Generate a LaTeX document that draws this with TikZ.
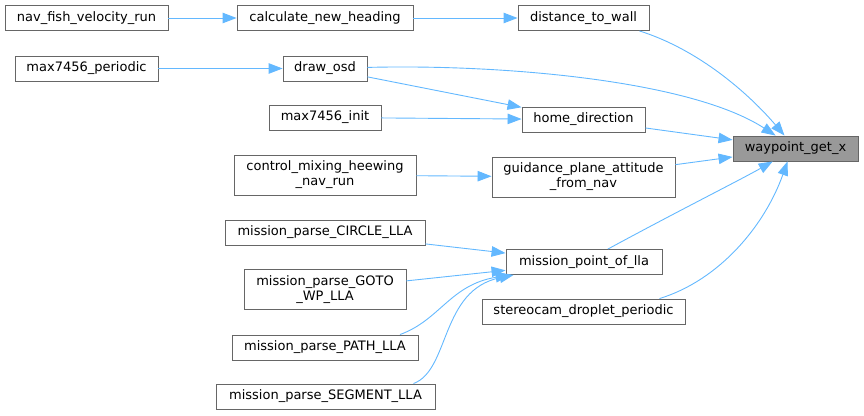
\documentclass[tikz,border=0pt]{standalone}
\usepackage{fontspec}
\setmainfont{DejaVu Sans}
\usepackage{tikz}
\usetikzlibrary{arrows.meta,positioning,calc}
\definecolor{callblue}{HTML}{63B8FF}
\definecolor{boxgray}{HTML}{666666}
\definecolor{selgray}{HTML}{999999}

\begin{document}
\begin{tikzpicture}[x=1pt, y=-1pt,
        fn/.style={rectangle, draw=boxgray, line width=0.9pt, fill=white,
                   inner sep=0pt, minimum height=25pt, align=center,
                   font=\fontsize{13}{15}\selectfont},
        fn2/.style={fn, minimum height=40pt},
        sel/.style={fn, fill=selgray},
        call/.style={draw=callblue, line width=0.9pt,
                     -{Triangle[length=14pt, width=10.5pt]}, callblue}
    ]
    \useasboundingbox (0,0) rectangle (864,415);

    %% ── callee ──────────────────────────────────────────────────────────────
    \node[sel, minimum width=125pt] (wgx) at (795.5,148.5) {waypoint\_get\_x};

    %% ── direct callers ──────────────────────────────────────────────────────
    \node[fn,  minimum width=131pt] (dist)   at (583.5, 18)   {distance\_to\_wall};
    \node[fn,  minimum width=123pt] (home)   at (583.5,119.5) {home\_direction};
    \node[fn2, minimum width=183pt] (gpa)    at (583.5,177)   {guidance\_plane\_attitude\\\_from\_nav};
    \node[fn,  minimum width=156pt] (mpl)    at (584,  262)   {mission\_point\_of\_lla};
    \node[fn,  minimum width=203pt] (stereo) at (583.5,311.5) {stereocam\_droplet\_periodic};
    \node[fn,  minimum width=84pt]  (osd)    at (325,  68.5)  {draw\_osd};

    %% ── second level ────────────────────────────────────────────────────────
    \node[fn,  minimum width=176pt] (calc) at (325,   18)   {calculate\_new\_heading};
    \node[fn,  minimum width=112pt] (m7i)  at (325,  117.5) {max7456\_init};
    \node[fn2, minimum width=182pt] (cmh)  at (325,  175)   {control\_mixing\_heewing\\\_nav\_run};
    \node[fn,  minimum width=200pt] (circ) at (325,  232.5) {mission\_parse\_CIRCLE\_LLA};
    \node[fn2, minimum width=162pt] (goto) at (325,  289.5) {mission\_parse\_GOTO\\\_WP\_LLA};
    \node[fn,  minimum width=186pt] (path) at (325,  347.5) {mission\_parse\_PATH\_LLA};
    \node[fn,  minimum width=219pt] (seg)  at (325.5,396.5) {mission\_parse\_SEGMENT\_LLA};

    %% ── third level ─────────────────────────────────────────────────────────
    \node[fn,  minimum width=163pt] (nav) at (86.5, 18)   {nav\_fish\_velocity\_run};
    \node[fn,  minimum width=143pt] (m7p) at (86.5, 68.5) {max7456\_periodic};

    %% ── calls ───────────────────────────────────────────────────────────────
    \draw[call] (nav) -- (calc);
    \draw[call] (calc) -- (dist);
    \draw[call] (m7p) -- (osd);
    \draw[call] (m7i) -- (home);
    \draw[call] (cmh) -- (gpa);
    \draw[call] (osd) -- (home);
    \draw[call] (circ) -- (mpl);
    \draw[call] (goto) -- (mpl);
    \draw[call] ([xshift=75pt]path.north)
        .. controls (440,320) and (450,285) .. ([xshift=4pt]mpl.south west);
    \draw[call] ([xshift=88pt]seg.north)
        .. controls (450,370) and (440,290) .. ([xshift=8pt]mpl.south west);

    %% into waypoint_get_x
    \draw[call] ([xshift=56pt]dist.south) .. controls (700,50) and (750,95) .. (wgx);
    \draw[call] (osd) .. controls (500,64) and (690,80) .. (wgx);
    \draw[call] (home) -- (wgx);
    \draw[call] (gpa) -- (wgx);
    \draw[call] (mpl) .. controls (680,210) and (740,180) .. (wgx);
    \draw[call] ([xshift=76pt]stereo.north)
        .. controls (720,280) and (765,225) .. ([xshift=-8pt]wgx.south);

\end{tikzpicture}
\end{document}
